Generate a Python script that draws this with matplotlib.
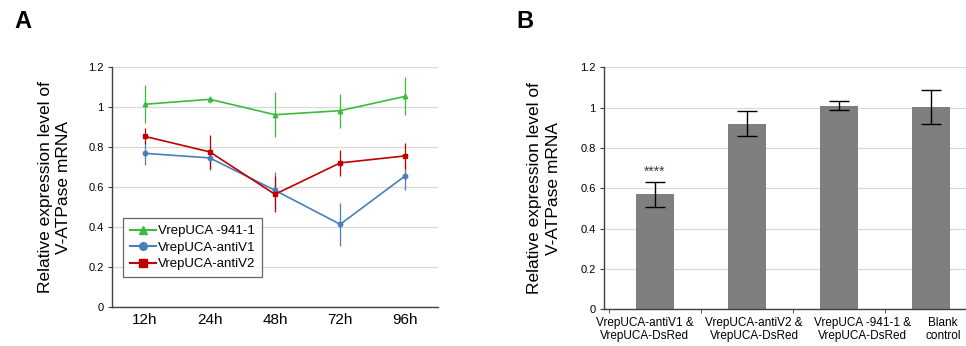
import matplotlib
matplotlib.use("Agg")
import matplotlib.pyplot as plt
from matplotlib.lines import Line2D
import numpy as np

plt.rcParams['font.family'] = ['Liberation Sans', 'DejaVu Sans']

# Panel A data
times = ['12h', '24h', '48h', '72h', '96h']
v941 = [1.015, 1.04, 0.963, 0.983, 1.055]
v941_err = [0.095, 0.017, 0.112, 0.085, 0.095]
anti1 = [0.77, 0.747, 0.585, 0.415, 0.658]
anti1_err = [0.058, 0.06, 0.09, 0.107, 0.07]
anti2 = [0.855, 0.777, 0.565, 0.722, 0.757]
anti2_err = [0.04, 0.085, 0.09, 0.063, 0.063]

# Panel B data
groups = ['VrepUCA-antiV1 &\nVrepUCA-DsRed', 'VrepUCA-antiV2 &\nVrepUCA-DsRed',
          'VrepUCA -941-1 &\nVrepUCA-DsRed', 'Blank\ncontrol']
bar_vals = [0.57, 0.92, 1.01, 1.003]
bar_err = [0.063, 0.063, 0.022, 0.085]
label_shift = [-0.11, 0.08, 0.26, 0.13]

ylabel = 'Relative expression level of\nV-ATPase mRNA'
yticks = [0, 0.2, 0.4, 0.6, 0.8, 1.0, 1.2]
yticklabels = ['0', '0.2', '0.4', '0.6', '0.8', '1', '1.2']

fig = plt.figure(figsize=(9.66, 3.46), dpi=100)


def style_axes(ax):
    ax.set_ylim(0, 1.2)
    ax.set_yticks(yticks)
    ax.set_yticklabels(yticklabels)
    ax.yaxis.grid(True, color='#d9d9d9', lw=0.9)
    ax.set_axisbelow(True)
    for s in ['top', 'right']:
        ax.spines[s].set_visible(False)
    for s in ['left', 'bottom']:
        ax.spines[s].set_color('#404040')
        ax.spines[s].set_linewidth(1.0)
    ax.tick_params(axis='y', length=3, width=0.8, color='#404040', labelsize=8, pad=3)


# ---- Panel A ----
axA = fig.add_axes([0.1159, 0.1118, 0.3375, 0.6937])
x = np.arange(len(times))
series = [
    (v941, v941_err, '#3dbb3d', '^', 'VrepUCA -941-1'),
    (anti1, anti1_err, '#4a7ebb', 'o', 'VrepUCA-antiV1'),
    (anti2, anti2_err, '#c00000', 's', 'VrepUCA-antiV2'),
]
handles = []
for vals, errs, col, mk, lab in series:
    axA.errorbar(x, vals, yerr=errs, color=col, lw=1.2, marker=mk, markersize=3.2,
                 elinewidth=0.9, capsize=0)
    handles.append(Line2D([], [], color=col, lw=1.5, marker=mk, markersize=5.5, label=lab))
axA.set_xlim(-0.5, 4.5)
axA.set_xticks(x)
axA.set_xticklabels(times, fontsize=11)
axA.tick_params(axis='x', length=0, pad=4)
style_axes(axA)
axA.set_ylabel(ylabel, fontsize=12.5, labelpad=12, linespacing=1.3)
leg = axA.legend(handles=handles, loc='lower left', bbox_to_anchor=(0.015, 0.1), fontsize=9.5,
                 frameon=True, fancybox=False, handlelength=2.0, handletextpad=0.1,
                 borderpad=0.5, labelspacing=0.32)
leg.get_frame().set_edgecolor('#404040')
leg.get_frame().set_linewidth(0.9)

# ---- Panel B ----
axB = fig.add_axes([0.6253, 0.106, 0.3861, 0.6995])
xb = np.arange(len(groups))
axB.bar(xb, bar_vals, width=0.41, color='#7f7f7f', zorder=2)
axB.errorbar(xb, bar_vals, yerr=bar_err, fmt='none', ecolor='black', elinewidth=1.0,
             capsize=7.5, capthick=1.0, zorder=3)
axB.text(xb[0], bar_vals[0] + bar_err[0] + 0.012, '****', ha='center', va='bottom',
         fontsize=10, color='#404040')
axB.set_xlim(-0.55, 3.5)
axB.set_xticks([])
axB.set_xticks(np.arange(-0.5, 3.6, 1.0), minor=True)
axB.tick_params(axis='x', which='minor', length=3, color='#404040')
for xi, lab, sh in zip(xb, groups, label_shift):
    axB.text(xi + sh, -0.04, lab, ha='center', va='top', fontsize=8.5,
             linespacing=1.1, transform=axB.transData)
style_axes(axB)
axB.set_ylabel(ylabel, fontsize=12.5, labelpad=14, linespacing=1.3)

fig.text(0.015, 0.919, 'A', fontsize=17, fontweight='bold')
fig.text(0.535, 0.919, 'B', fontsize=17, fontweight='bold')

fig.savefig('out.png', dpi=100, facecolor='white')
